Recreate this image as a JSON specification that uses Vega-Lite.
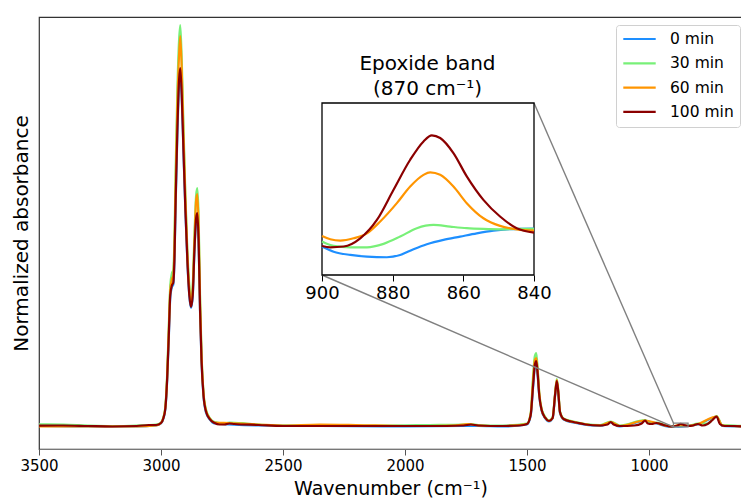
{
  "$schema": "https://vega.github.io/schema/vega-lite/v6.json",
  "width": 703,
  "height": 432,
  "autosize": "none",
  "padding": {"left": 39, "top": 17, "right": 0, "bottom": 53},
  "background": "white",
  "config": {
    "font": "DejaVu Sans",
    "view": {"stroke": "#333", "strokeWidth": 1.2},
    "axis": {"grid": false, "labelColor": "#000", "titleColor": "#000", "titleFontWeight": "normal", "labelFont": "DejaVu Sans", "titleFont": "DejaVu Sans", "labelFlush": false},
    "legend": {"labelFont": "DejaVu Sans"}
  },
  "datasets": {
    "main": [
      {"t": "0 min", "wn": 3500, "a": 0.0532}, {"t": "0 min", "wn": 3300, "a": 0.0521}, {"t": "0 min", "wn": 3100, "a": 0.0521}, {"t": "0 min", "wn": 3020, "a": 0.0544}, {"t": "0 min", "wn": 3000, "a": 0.0590}, {"t": "0 min", "wn": 2990, "a": 0.0706}, {"t": "0 min", "wn": 2982, "a": 0.0926}, {"t": "0 min", "wn": 2975, "a": 0.1551}, {"t": "0 min", "wn": 2968, "a": 0.2569}, {"t": "0 min", "wn": 2962, "a": 0.3495}, {"t": "0 min", "wn": 2955, "a": 0.3750}, {"t": "0 min", "wn": 2950, "a": 0.3796}, {"t": "0 min", "wn": 2945, "a": 0.4329}, {"t": "0 min", "wn": 2940, "a": 0.5648}, {"t": "0 min", "wn": 2933, "a": 0.7269}, {"t": "0 min", "wn": 2926, "a": 0.8426}, {"t": "0 min", "wn": 2921, "a": 0.8727}, {"t": "0 min", "wn": 2915, "a": 0.8125}, {"t": "0 min", "wn": 2908, "a": 0.6875}, {"t": "0 min", "wn": 2900, "a": 0.5486}, {"t": "0 min", "wn": 2892, "a": 0.4329}, {"t": "0 min", "wn": 2884, "a": 0.3542}, {"t": "0 min", "wn": 2877, "a": 0.3264}, {"t": "0 min", "wn": 2870, "a": 0.3519}, {"t": "0 min", "wn": 2863, "a": 0.4560}, {"t": "0 min", "wn": 2856, "a": 0.5301}, {"t": "0 min", "wn": 2851, "a": 0.5417}, {"t": "0 min", "wn": 2846, "a": 0.4792}, {"t": "0 min", "wn": 2840, "a": 0.3171}, {"t": "0 min", "wn": 2834, "a": 0.2014}, {"t": "0 min", "wn": 2826, "a": 0.1227}, {"t": "0 min", "wn": 2815, "a": 0.0833}, {"t": "0 min", "wn": 2800, "a": 0.0683}, {"t": "0 min", "wn": 2780, "a": 0.0590}, {"t": "0 min", "wn": 2600, "a": 0.0544}, {"t": "0 min", "wn": 2000, "a": 0.0521}, {"t": "0 min", "wn": 1760, "a": 0.0532}, {"t": "0 min", "wn": 1700, "a": 0.0532}, {"t": "0 min", "wn": 1600, "a": 0.0521}, {"t": "0 min", "wn": 1500, "a": 0.0567}, {"t": "0 min", "wn": 1485, "a": 0.0764}, {"t": "0 min", "wn": 1475, "a": 0.1435}, {"t": "0 min", "wn": 1468, "a": 0.1898}, {"t": "0 min", "wn": 1462, "a": 0.1991}, {"t": "0 min", "wn": 1456, "a": 0.1667}, {"t": "0 min", "wn": 1450, "a": 0.1227}, {"t": "0 min", "wn": 1440, "a": 0.0880}, {"t": "0 min", "wn": 1425, "a": 0.0706}, {"t": "0 min", "wn": 1410, "a": 0.0637}, {"t": "0 min", "wn": 1395, "a": 0.0706}, {"t": "0 min", "wn": 1385, "a": 0.1227}, {"t": "0 min", "wn": 1378, "a": 0.1551}, {"t": "0 min", "wn": 1372, "a": 0.1296}, {"t": "0 min", "wn": 1365, "a": 0.0833}, {"t": "0 min", "wn": 1350, "a": 0.0683}, {"t": "0 min", "wn": 1300, "a": 0.0602}, {"t": "0 min", "wn": 1200, "a": 0.0532}, {"t": "0 min", "wn": 1157, "a": 0.0613}, {"t": "0 min", "wn": 1120, "a": 0.0521}, {"t": "0 min", "wn": 1016, "a": 0.0648}, {"t": "0 min", "wn": 970, "a": 0.0590}, {"t": "0 min", "wn": 910, "a": 0.0509}, {"t": "0 min", "wn": 900, "a": 0.0525}, {"t": "0 min", "wn": 880, "a": 0.0519}, {"t": "0 min", "wn": 840, "a": 0.0534}, {"t": "0 min", "wn": 800, "a": 0.0567}, {"t": "0 min", "wn": 723, "a": 0.0741}, {"t": "0 min", "wn": 700, "a": 0.0532}, {"t": "0 min", "wn": 619, "a": 0.0521},

      {"t": "30 min", "wn": 3500, "a": 0.0572}, {"t": "30 min", "wn": 3400, "a": 0.0567}, {"t": "30 min", "wn": 3300, "a": 0.0544}, {"t": "30 min", "wn": 3200, "a": 0.0532}, {"t": "30 min", "wn": 3100, "a": 0.0544}, {"t": "30 min", "wn": 3020, "a": 0.0567}, {"t": "30 min", "wn": 3000, "a": 0.0613}, {"t": "30 min", "wn": 2990, "a": 0.0741}, {"t": "30 min", "wn": 2982, "a": 0.0995}, {"t": "30 min", "wn": 2975, "a": 0.1713}, {"t": "30 min", "wn": 2968, "a": 0.2870}, {"t": "30 min", "wn": 2962, "a": 0.3796}, {"t": "30 min", "wn": 2955, "a": 0.4074}, {"t": "30 min", "wn": 2950, "a": 0.4144}, {"t": "30 min", "wn": 2945, "a": 0.4838}, {"t": "30 min", "wn": 2940, "a": 0.6458}, {"t": "30 min", "wn": 2933, "a": 0.8310}, {"t": "30 min", "wn": 2926, "a": 0.9468}, {"t": "30 min", "wn": 2921, "a": 0.9815}, {"t": "30 min", "wn": 2915, "a": 0.9005}, {"t": "30 min", "wn": 2908, "a": 0.7500}, {"t": "30 min", "wn": 2900, "a": 0.5880}, {"t": "30 min", "wn": 2892, "a": 0.4606}, {"t": "30 min", "wn": 2884, "a": 0.3796}, {"t": "30 min", "wn": 2877, "a": 0.3449}, {"t": "30 min", "wn": 2870, "a": 0.3796}, {"t": "30 min", "wn": 2863, "a": 0.4954}, {"t": "30 min", "wn": 2856, "a": 0.5880}, {"t": "30 min", "wn": 2851, "a": 0.6042}, {"t": "30 min", "wn": 2846, "a": 0.5417}, {"t": "30 min", "wn": 2840, "a": 0.3565}, {"t": "30 min", "wn": 2834, "a": 0.2245}, {"t": "30 min", "wn": 2826, "a": 0.1319}, {"t": "30 min", "wn": 2815, "a": 0.0903}, {"t": "30 min", "wn": 2800, "a": 0.0718}, {"t": "30 min", "wn": 2780, "a": 0.0625}, {"t": "30 min", "wn": 2740, "a": 0.0590}, {"t": "30 min", "wn": 2720, "a": 0.0613}, {"t": "30 min", "wn": 2650, "a": 0.0590}, {"t": "30 min", "wn": 2600, "a": 0.0567}, {"t": "30 min", "wn": 2500, "a": 0.0544}, {"t": "30 min", "wn": 2300, "a": 0.0544}, {"t": "30 min", "wn": 2100, "a": 0.0544}, {"t": "30 min", "wn": 1900, "a": 0.0556}, {"t": "30 min", "wn": 1760, "a": 0.0567}, {"t": "30 min", "wn": 1730, "a": 0.0579}, {"t": "30 min", "wn": 1700, "a": 0.0556}, {"t": "30 min", "wn": 1600, "a": 0.0544}, {"t": "30 min", "wn": 1500, "a": 0.0590}, {"t": "30 min", "wn": 1485, "a": 0.0833}, {"t": "30 min", "wn": 1475, "a": 0.1713}, {"t": "30 min", "wn": 1468, "a": 0.2153}, {"t": "30 min", "wn": 1462, "a": 0.2222}, {"t": "30 min", "wn": 1456, "a": 0.1829}, {"t": "30 min", "wn": 1450, "a": 0.1319}, {"t": "30 min", "wn": 1440, "a": 0.0926}, {"t": "30 min", "wn": 1425, "a": 0.0741}, {"t": "30 min", "wn": 1410, "a": 0.0660}, {"t": "30 min", "wn": 1395, "a": 0.0741}, {"t": "30 min", "wn": 1385, "a": 0.1296}, {"t": "30 min", "wn": 1378, "a": 0.1620}, {"t": "30 min", "wn": 1372, "a": 0.1366}, {"t": "30 min", "wn": 1365, "a": 0.0880}, {"t": "30 min", "wn": 1350, "a": 0.0706}, {"t": "30 min", "wn": 1300, "a": 0.0625}, {"t": "30 min", "wn": 1260, "a": 0.0579}, {"t": "30 min", "wn": 1200, "a": 0.0556}, {"t": "30 min", "wn": 1157, "a": 0.0637}, {"t": "30 min", "wn": 1120, "a": 0.0544}, {"t": "30 min", "wn": 1016, "a": 0.0671}, {"t": "30 min", "wn": 990, "a": 0.0590}, {"t": "30 min", "wn": 970, "a": 0.0613}, {"t": "30 min", "wn": 940, "a": 0.0567}, {"t": "30 min", "wn": 910, "a": 0.0532}, {"t": "30 min", "wn": 900, "a": 0.0528}, {"t": "30 min", "wn": 870, "a": 0.0536}, {"t": "30 min", "wn": 840, "a": 0.0534}, {"t": "30 min", "wn": 800, "a": 0.0590}, {"t": "30 min", "wn": 760, "a": 0.0590}, {"t": "30 min", "wn": 723, "a": 0.0764}, {"t": "30 min", "wn": 700, "a": 0.0556}, {"t": "30 min", "wn": 650, "a": 0.0544}, {"t": "30 min", "wn": 619, "a": 0.0532},

      {"t": "60 min", "wn": 3500, "a": 0.0521}, {"t": "60 min", "wn": 3300, "a": 0.0521}, {"t": "60 min", "wn": 3100, "a": 0.0521}, {"t": "60 min", "wn": 3020, "a": 0.0544}, {"t": "60 min", "wn": 3000, "a": 0.0602}, {"t": "60 min", "wn": 2990, "a": 0.0729}, {"t": "60 min", "wn": 2982, "a": 0.0972}, {"t": "60 min", "wn": 2975, "a": 0.1644}, {"t": "60 min", "wn": 2968, "a": 0.2755}, {"t": "60 min", "wn": 2962, "a": 0.3681}, {"t": "60 min", "wn": 2955, "a": 0.3935}, {"t": "60 min", "wn": 2950, "a": 0.4005}, {"t": "60 min", "wn": 2945, "a": 0.4606}, {"t": "60 min", "wn": 2940, "a": 0.6111}, {"t": "60 min", "wn": 2933, "a": 0.7963}, {"t": "60 min", "wn": 2926, "a": 0.9120}, {"t": "60 min", "wn": 2921, "a": 0.9560}, {"t": "60 min", "wn": 2915, "a": 0.8773}, {"t": "60 min", "wn": 2908, "a": 0.7269}, {"t": "60 min", "wn": 2900, "a": 0.5764}, {"t": "60 min", "wn": 2892, "a": 0.4491}, {"t": "60 min", "wn": 2884, "a": 0.3681}, {"t": "60 min", "wn": 2877, "a": 0.3380}, {"t": "60 min", "wn": 2870, "a": 0.3681}, {"t": "60 min", "wn": 2863, "a": 0.4792}, {"t": "60 min", "wn": 2856, "a": 0.5764}, {"t": "60 min", "wn": 2851, "a": 0.5903}, {"t": "60 min", "wn": 2846, "a": 0.5185}, {"t": "60 min", "wn": 2840, "a": 0.3403}, {"t": "60 min", "wn": 2834, "a": 0.2153}, {"t": "60 min", "wn": 2826, "a": 0.1296}, {"t": "60 min", "wn": 2815, "a": 0.0880}, {"t": "60 min", "wn": 2800, "a": 0.0706}, {"t": "60 min", "wn": 2780, "a": 0.0613}, {"t": "60 min", "wn": 2720, "a": 0.0602}, {"t": "60 min", "wn": 2600, "a": 0.0567}, {"t": "60 min", "wn": 2500, "a": 0.0544}, {"t": "60 min", "wn": 2350, "a": 0.0567}, {"t": "60 min", "wn": 2200, "a": 0.0556}, {"t": "60 min", "wn": 2000, "a": 0.0532}, {"t": "60 min", "wn": 1800, "a": 0.0544}, {"t": "60 min", "wn": 1740, "a": 0.0579}, {"t": "60 min", "wn": 1700, "a": 0.0544}, {"t": "60 min", "wn": 1600, "a": 0.0532}, {"t": "60 min", "wn": 1500, "a": 0.0579}, {"t": "60 min", "wn": 1485, "a": 0.0810}, {"t": "60 min", "wn": 1475, "a": 0.1597}, {"t": "60 min", "wn": 1468, "a": 0.2060}, {"t": "60 min", "wn": 1462, "a": 0.2106}, {"t": "60 min", "wn": 1456, "a": 0.1782}, {"t": "60 min", "wn": 1450, "a": 0.1296}, {"t": "60 min", "wn": 1440, "a": 0.0903}, {"t": "60 min", "wn": 1425, "a": 0.0718}, {"t": "60 min", "wn": 1410, "a": 0.0648}, {"t": "60 min", "wn": 1395, "a": 0.0718}, {"t": "60 min", "wn": 1385, "a": 0.1273}, {"t": "60 min", "wn": 1378, "a": 0.1597}, {"t": "60 min", "wn": 1372, "a": 0.1343}, {"t": "60 min", "wn": 1365, "a": 0.0856}, {"t": "60 min", "wn": 1350, "a": 0.0694}, {"t": "60 min", "wn": 1300, "a": 0.0613}, {"t": "60 min", "wn": 1200, "a": 0.0544}, {"t": "60 min", "wn": 1157, "a": 0.0625}, {"t": "60 min", "wn": 1120, "a": 0.0532}, {"t": "60 min", "wn": 1016, "a": 0.0660}, {"t": "60 min", "wn": 970, "a": 0.0602}, {"t": "60 min", "wn": 910, "a": 0.0521}, {"t": "60 min", "wn": 900, "a": 0.0530}, {"t": "60 min", "wn": 870, "a": 0.0563}, {"t": "60 min", "wn": 840, "a": 0.0533}, {"t": "60 min", "wn": 800, "a": 0.0579}, {"t": "60 min", "wn": 723, "a": 0.0752}, {"t": "60 min", "wn": 700, "a": 0.0544}, {"t": "60 min", "wn": 619, "a": 0.0521},

      {"t": "100 min", "wn": 3500, "a": 0.0539}, {"t": "100 min", "wn": 3400, "a": 0.0544}, {"t": "100 min", "wn": 3300, "a": 0.0532}, {"t": "100 min", "wn": 3200, "a": 0.0521}, {"t": "100 min", "wn": 3100, "a": 0.0532}, {"t": "100 min", "wn": 3050, "a": 0.0556}, {"t": "100 min", "wn": 3020, "a": 0.0556}, {"t": "100 min", "wn": 3000, "a": 0.0602}, {"t": "100 min", "wn": 2990, "a": 0.0718}, {"t": "100 min", "wn": 2982, "a": 0.0949}, {"t": "100 min", "wn": 2975, "a": 0.1597}, {"t": "100 min", "wn": 2968, "a": 0.2639}, {"t": "100 min", "wn": 2962, "a": 0.3565}, {"t": "100 min", "wn": 2955, "a": 0.3796}, {"t": "100 min", "wn": 2950, "a": 0.3843}, {"t": "100 min", "wn": 2945, "a": 0.4375}, {"t": "100 min", "wn": 2940, "a": 0.5764}, {"t": "100 min", "wn": 2933, "a": 0.7384}, {"t": "100 min", "wn": 2926, "a": 0.8542}, {"t": "100 min", "wn": 2921, "a": 0.8819}, {"t": "100 min", "wn": 2915, "a": 0.8194}, {"t": "100 min", "wn": 2908, "a": 0.6921}, {"t": "100 min", "wn": 2900, "a": 0.5532}, {"t": "100 min", "wn": 2892, "a": 0.4375}, {"t": "100 min", "wn": 2884, "a": 0.3565}, {"t": "100 min", "wn": 2877, "a": 0.3287}, {"t": "100 min", "wn": 2870, "a": 0.3565}, {"t": "100 min", "wn": 2863, "a": 0.4606}, {"t": "100 min", "wn": 2856, "a": 0.5347}, {"t": "100 min", "wn": 2851, "a": 0.5463}, {"t": "100 min", "wn": 2846, "a": 0.4838}, {"t": "100 min", "wn": 2840, "a": 0.3218}, {"t": "100 min", "wn": 2834, "a": 0.2060}, {"t": "100 min", "wn": 2826, "a": 0.1250}, {"t": "100 min", "wn": 2815, "a": 0.0856}, {"t": "100 min", "wn": 2800, "a": 0.0694}, {"t": "100 min", "wn": 2780, "a": 0.0602}, {"t": "100 min", "wn": 2760, "a": 0.0567}, {"t": "100 min", "wn": 2740, "a": 0.0567}, {"t": "100 min", "wn": 2720, "a": 0.0590}, {"t": "100 min", "wn": 2700, "a": 0.0579}, {"t": "100 min", "wn": 2600, "a": 0.0556}, {"t": "100 min", "wn": 2500, "a": 0.0532}, {"t": "100 min", "wn": 2300, "a": 0.0532}, {"t": "100 min", "wn": 2100, "a": 0.0532}, {"t": "100 min", "wn": 1900, "a": 0.0532}, {"t": "100 min", "wn": 1760, "a": 0.0544}, {"t": "100 min", "wn": 1730, "a": 0.0567}, {"t": "100 min", "wn": 1700, "a": 0.0544}, {"t": "100 min", "wn": 1600, "a": 0.0532}, {"t": "100 min", "wn": 1530, "a": 0.0544}, {"t": "100 min", "wn": 1500, "a": 0.0579}, {"t": "100 min", "wn": 1485, "a": 0.0787}, {"t": "100 min", "wn": 1475, "a": 0.1481}, {"t": "100 min", "wn": 1468, "a": 0.1944}, {"t": "100 min", "wn": 1462, "a": 0.2037}, {"t": "100 min", "wn": 1456, "a": 0.1713}, {"t": "100 min", "wn": 1450, "a": 0.1250}, {"t": "100 min", "wn": 1440, "a": 0.0903}, {"t": "100 min", "wn": 1425, "a": 0.0718}, {"t": "100 min", "wn": 1410, "a": 0.0648}, {"t": "100 min", "wn": 1395, "a": 0.0718}, {"t": "100 min", "wn": 1385, "a": 0.1250}, {"t": "100 min", "wn": 1378, "a": 0.1574}, {"t": "100 min", "wn": 1372, "a": 0.1319}, {"t": "100 min", "wn": 1365, "a": 0.0856}, {"t": "100 min", "wn": 1350, "a": 0.0694}, {"t": "100 min", "wn": 1320, "a": 0.0637}, {"t": "100 min", "wn": 1300, "a": 0.0613}, {"t": "100 min", "wn": 1260, "a": 0.0567}, {"t": "100 min", "wn": 1200, "a": 0.0544}, {"t": "100 min", "wn": 1170, "a": 0.0567}, {"t": "100 min", "wn": 1157, "a": 0.0625}, {"t": "100 min", "wn": 1145, "a": 0.0567}, {"t": "100 min", "wn": 1120, "a": 0.0532}, {"t": "100 min", "wn": 1060, "a": 0.0544}, {"t": "100 min", "wn": 1030, "a": 0.0590}, {"t": "100 min", "wn": 1016, "a": 0.0660}, {"t": "100 min", "wn": 1005, "a": 0.0590}, {"t": "100 min", "wn": 990, "a": 0.0579}, {"t": "100 min", "wn": 970, "a": 0.0602}, {"t": "100 min", "wn": 940, "a": 0.0556}, {"t": "100 min", "wn": 910, "a": 0.0521}, {"t": "100 min", "wn": 900, "a": 0.0525}, {"t": "100 min", "wn": 885, "a": 0.0538}, {"t": "100 min", "wn": 870, "a": 0.0581}, {"t": "100 min", "wn": 855, "a": 0.0551}, {"t": "100 min", "wn": 840, "a": 0.0532}, {"t": "100 min", "wn": 820, "a": 0.0544}, {"t": "100 min", "wn": 800, "a": 0.0579}, {"t": "100 min", "wn": 780, "a": 0.0544}, {"t": "100 min", "wn": 760, "a": 0.0579}, {"t": "100 min", "wn": 740, "a": 0.0671}, {"t": "100 min", "wn": 723, "a": 0.0752}, {"t": "100 min", "wn": 710, "a": 0.0579}, {"t": "100 min", "wn": 690, "a": 0.0532}, {"t": "100 min", "wn": 650, "a": 0.0532}, {"t": "100 min", "wn": 619, "a": 0.0521}
    ],
    "inset": [
      {"t": "0 min", "wn": 900, "a": 0.05249}, {"t": "0 min", "wn": 896.7, "a": 0.05222}, {"t": "0 min", "wn": 891.99, "a": 0.05205}, {"t": "0 min", "wn": 887.28, "a": 0.05196}, {"t": "0 min", "wn": 881.63, "a": 0.05193}, {"t": "0 min", "wn": 877.87, "a": 0.05205}, {"t": "0 min", "wn": 874.1, "a": 0.05235}, {"t": "0 min", "wn": 870.33, "a": 0.05261}, {"t": "0 min", "wn": 865.62, "a": 0.05284}, {"t": "0 min", "wn": 860.91, "a": 0.05301}, {"t": "0 min", "wn": 856.2, "a": 0.05318}, {"t": "0 min", "wn": 851.49, "a": 0.05332}, {"t": "0 min", "wn": 847.73, "a": 0.05339}, {"t": "0 min", "wn": 843.96, "a": 0.05341}, {"t": "0 min", "wn": 840, "a": 0.05343},
      {"t": "30 min", "wn": 900, "a": 0.05275}, {"t": "30 min", "wn": 896.7, "a": 0.05252}, {"t": "30 min", "wn": 891.99, "a": 0.05245}, {"t": "30 min", "wn": 887.28, "a": 0.05245}, {"t": "30 min", "wn": 882.58, "a": 0.05263}, {"t": "30 min", "wn": 877.87, "a": 0.05301}, {"t": "30 min", "wn": 873.16, "a": 0.05345}, {"t": "30 min", "wn": 868.45, "a": 0.05362}, {"t": "30 min", "wn": 863.74, "a": 0.05353}, {"t": "30 min", "wn": 859.03, "a": 0.05345}, {"t": "30 min", "wn": 854.32, "a": 0.05341}, {"t": "30 min", "wn": 849.61, "a": 0.05339}, {"t": "30 min", "wn": 844.9, "a": 0.05341}, {"t": "30 min", "wn": 840, "a": 0.05341},
      {"t": "60 min", "wn": 900, "a": 0.05304}, {"t": "60 min", "wn": 897.65, "a": 0.05287}, {"t": "60 min", "wn": 894.82, "a": 0.0528}, {"t": "60 min", "wn": 891.05, "a": 0.05292}, {"t": "60 min", "wn": 887.28, "a": 0.05318}, {"t": "60 min", "wn": 883.52, "a": 0.0538}, {"t": "60 min", "wn": 878.81, "a": 0.05476}, {"t": "60 min", "wn": 875.04, "a": 0.05563}, {"t": "60 min", "wn": 871.27, "a": 0.05624}, {"t": "60 min", "wn": 869.39, "a": 0.05637}, {"t": "60 min", "wn": 866.56, "a": 0.05624}, {"t": "60 min", "wn": 862.8, "a": 0.05563}, {"t": "60 min", "wn": 859.03, "a": 0.05476}, {"t": "60 min", "wn": 854.32, "a": 0.05397}, {"t": "60 min", "wn": 849.61, "a": 0.05357}, {"t": "60 min", "wn": 844.9, "a": 0.05339}, {"t": "60 min", "wn": 840, "a": 0.05332},
      {"t": "100 min", "wn": 900, "a": 0.05252}, {"t": "100 min", "wn": 897.65, "a": 0.05245}, {"t": "100 min", "wn": 893.88, "a": 0.05249}, {"t": "100 min", "wn": 889.17, "a": 0.05292}, {"t": "100 min", "wn": 884.46, "a": 0.05388}, {"t": "100 min", "wn": 879.75, "a": 0.05546}, {"t": "100 min", "wn": 875.04, "a": 0.05703}, {"t": "100 min", "wn": 871.27, "a": 0.05799}, {"t": "100 min", "wn": 868.92, "a": 0.05831}, {"t": "100 min", "wn": 866.56, "a": 0.05817}, {"t": "100 min", "wn": 862.8, "a": 0.05738}, {"t": "100 min", "wn": 859.03, "a": 0.05616}, {"t": "100 min", "wn": 854.32, "a": 0.05493}, {"t": "100 min", "wn": 849.61, "a": 0.05406}, {"t": "100 min", "wn": 844.9, "a": 0.05345}, {"t": "100 min", "wn": 840, "a": 0.05322}
    ],
    "box": [{"x1": 900, "x2": 840, "y1": 0.051, "y2": 0.06}],
    "links": [
      {"x": 1471.3, "y": 0.8009, "x2": 900, "y2": 0.06},
      {"x": 2340.2, "y": 0.4028, "x2": 900, "y2": 0.051}
    ]
  },
  "layer": [
    {
      "layer": [
        {
          "data": {"name": "main"},
          "mark": {"type": "line", "strokeWidth": 2.2, "interpolate": "monotone"},
          "encoding": {
            "x": {"field": "wn", "type": "quantitative",
              "scale": {"domain": [3500, 619], "nice": false, "zero": false},
              "axis": {"values": [3500, 3000, 2500, 2000, 1500, 1000], "format": "d", "title": "Wavenumber (cm⁻¹)",
                "labelFontSize": 15, "titleFontSize": 19, "tickSize": 6, "tickColor": "#555", "domainColor": "#777", "labelPadding": 3, "titlePadding": 6}},
            "y": {"field": "a", "type": "quantitative",
              "scale": {"domain": [0, 1], "nice": false, "zero": false},
              "axis": {"labels": false, "ticks": false, "domain": false, "title": "Normalized absorbance", "titleFontSize": 20, "titlePadding": 8}},
            "color": {"field": "t", "type": "nominal",
              "scale": {"domain": ["0 min", "30 min", "60 min", "100 min"], "range": ["#1e8fff", "#78f078", "#ff9500", "#8b0000"]},
              "legend": {"title": null, "orient": "none", "legendX": 577, "legendY": 8, "symbolType": "stroke", "symbolSize": 1050, "symbolStrokeWidth": 2.2,
                "labelFontSize": 15.5, "labelOffset": 13, "clipHeight": 16, "rowPadding": 7.3, "padding": 6,
                "strokeColor": "#d0d0d0", "fillColor": "white", "cornerRadius": 3}}
          }
        },
        {
          "data": {"name": "box"},
          "mark": {"type": "rect", "fill": null, "stroke": "#808080", "strokeWidth": 1.2},
          "encoding": {
            "x": {"field": "x1", "type": "quantitative", "title": "Wavenumber (cm⁻¹)"},
            "x2": {"field": "x2"},
            "y": {"field": "y1", "type": "quantitative", "title": "Normalized absorbance"},
            "y2": {"field": "y2"}
          }
        },
        {
          "data": {"name": "links"},
          "mark": {"type": "rule", "stroke": "#808080", "strokeWidth": 1.4},
          "encoding": {
            "x": {"field": "x", "type": "quantitative", "title": "Wavenumber (cm⁻¹)"},
            "x2": {"field": "x2"},
            "y": {"field": "y", "type": "quantitative", "title": "Normalized absorbance"},
            "y2": {"field": "y2"}
          }
        }
      ]
    },
    {
      "layer": [
        {
          "data": {"name": "box"},
          "mark": {"type": "rect", "fill": "white", "stroke": "#000", "strokeWidth": 1.3},
          "encoding": {
            "x": {"field": "x1", "type": "quantitative",
              "scale": {"domain": [900, 840], "range": [283, 495], "nice": false, "zero": false},
              "axis": {"orient": "bottom", "offset": -174, "values": [900, 880, 860, 840], "domain": false, "tickColor": "#000", "tickSize": 6,
                "labelFontSize": 18, "labelPadding": 3, "labelFlush": false,
                "title": ["Epoxide band", "(870 cm⁻¹)"], "titleFontSize": 20, "titleX": 388, "titleY": -206, "titleBaseline": "alphabetic", "titleAlign": "center", "titleAnchor": null, "titleLineHeight": 25}},
            "x2": {"field": "x2"},
            "y": {"field": "y1", "type": "quantitative",
              "scale": {"domain": [0.051, 0.06], "range": [258, 86], "nice": false, "zero": false}, "axis": null},
            "y2": {"field": "y2"}
          }
        },
        {
          "data": {"name": "inset"},
          "mark": {"type": "line", "strokeWidth": 2.2, "interpolate": "monotone"},
          "encoding": {
            "x": {"field": "wn", "type": "quantitative"},
            "y": {"field": "a", "type": "quantitative"},
            "color": {"field": "t", "type": "nominal"}
          }
        }
      ]
    }
  ],
  "resolve": {"scale": {"x": "independent", "y": "independent"}, "axis": {"x": "independent", "y": "independent"}}
}
